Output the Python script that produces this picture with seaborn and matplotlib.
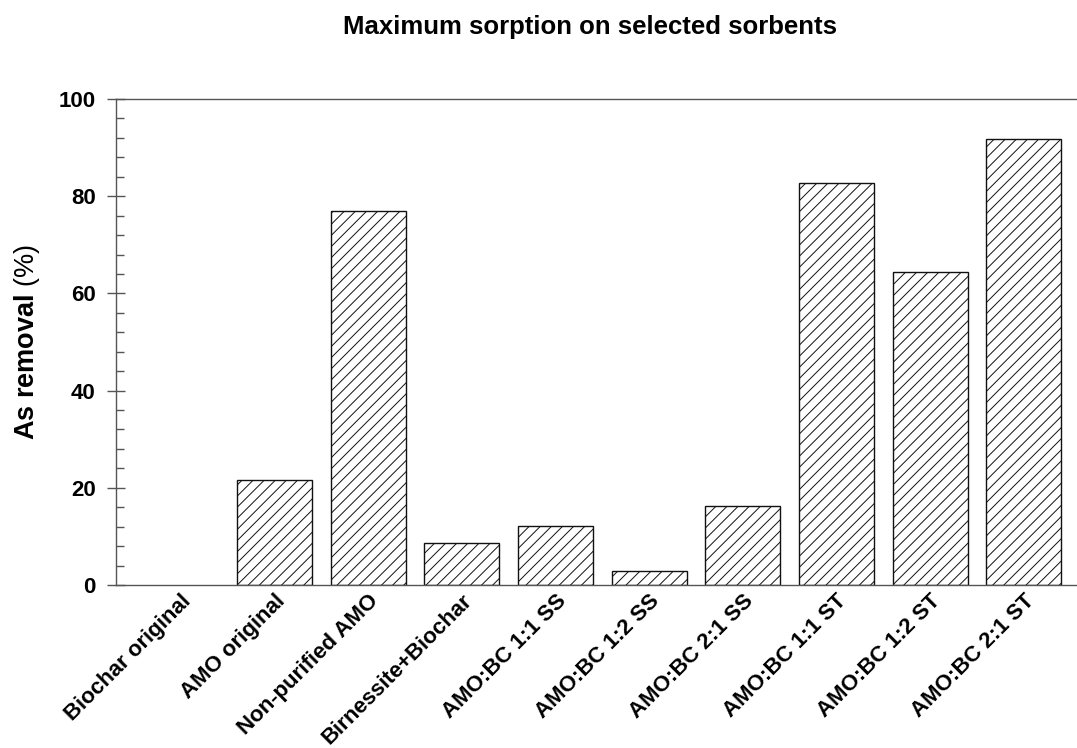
import matplotlib
matplotlib.use('Agg')
import matplotlib.pyplot as plt
import seaborn as sns
from matplotlib.ticker import MultipleLocator

# Data
sorbents = ['Biochar original', 'AMO original', 'Non-purified AMO', 'Birnessite+Biochar',
            'AMO:BC 1:1 SS', 'AMO:BC 1:2 SS', 'AMO:BC 2:1 SS',
            'AMO:BC 1:1 ST', 'AMO:BC 1:2 ST', 'AMO:BC 2:1 ST']
removal = [0.0, 21.6, 77.0, 8.6, 12.1, 2.9, 16.3, 82.7, 64.4, 91.7]

sns.set_style('ticks')
plt.rcParams['font.family'] = ['Liberation Sans', 'DejaVu Sans']
plt.rcParams['text.color'] = 'black'
plt.rcParams['axes.labelcolor'] = 'black'
plt.rcParams['xtick.color'] = 'black'
plt.rcParams['ytick.color'] = 'black'
plt.rcParams['mathtext.fontset'] = 'custom'
plt.rcParams['mathtext.rm'] = 'Liberation Sans'
plt.rcParams['mathtext.bf'] = 'Liberation Sans:bold'
plt.rcParams['mathtext.it'] = 'Liberation Sans:italic'
plt.rcParams['hatch.linewidth'] = 0.7

fig = plt.figure(figsize=(10.77, 7.48), dpi=100)
ax = fig.add_axes([0.1077, 0.2179, 0.903, 0.6497])

sns.barplot(x=sorbents, y=removal, color='white', edgecolor='#111111',
            linewidth=1.0, hatch='///', width=0.8, ax=ax)
for bar in ax.patches:
    bar.set_facecolor('white')
    if bar.get_height() == 0:
        bar.set_visible(False)

ax.set_xlim(-0.69, len(sorbents) - 1 + 0.69)
ax.set_ylim(0, 100)
ax.yaxis.set_major_locator(MultipleLocator(20))
ax.yaxis.set_minor_locator(MultipleLocator(4))

for side in ['top', 'bottom', 'left', 'right']:
    ax.spines[side].set_color('#555555')
    ax.spines[side].set_linewidth(1.0)

ax.tick_params(axis='y', which='major', direction='inout', length=13, width=1.0,
               color='#555555', labelsize=16, pad=8)
ax.tick_params(axis='y', which='minor', direction='in', length=6, width=1.0,
               color='#555555')
ax.tick_params(axis='x', length=0, labelsize=16, pad=4)
for lbl in ax.get_yticklabels():
    lbl.set_fontweight('bold')
ax.set_xticks(range(len(sorbents)))
ax.set_xticklabels(sorbents, rotation=45, ha='right', rotation_mode='anchor',
                   fontweight='bold', fontsize=16)

ax.set_ylabel(r'$\mathbf{As\ removal}\ \mathit{(\%)}$', fontsize=19.5)
ax.yaxis.set_label_coords(-0.076, 0.5)
ax.set_xlabel('')
fig.text(0.548, 0.964, 'Maximum sorption on selected sorbents', ha='center', va='center',
         fontsize=18.5, fontweight='bold')

fig.savefig('out.png', dpi=100)
